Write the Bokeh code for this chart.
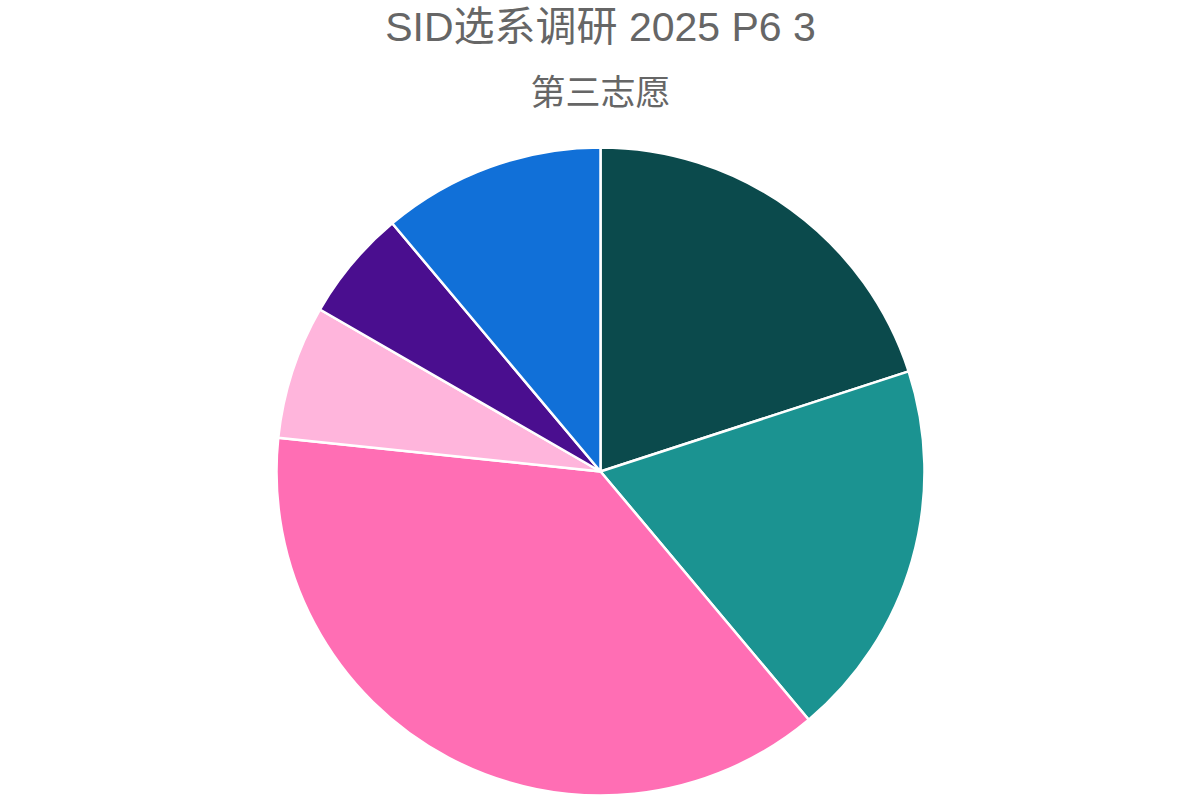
import numpy as np
from bokeh.plotting import figure
from bokeh.models import ColumnDataSource, Range1d
from bokeh.core.properties import value
from bokeh.embed import file_html
from bokeh.resources import INLINE

# Data (clockwise from 12 o'clock)
categories = ["选项1", "选项2", "选项3", "选项4", "选项5", "选项6"]
counts = [18, 17, 34, 6, 5, 10]
colors = ["#0b4a4c", "#1b9391", "#ff6eb4", "#ffb5dc", "#4a0e8f", "#1170d8"]

title_text = "SID选系调研 2025 P6 3"
subtitle_text = "第三志愿"

W, H = 1184, 796
vals = np.array(counts, dtype=float)
frac = vals / vals.sum()
cum_end = np.cumsum(frac)
cum_start = cum_end - frac
start = np.pi / 2 - cum_start * 2 * np.pi
end = np.pi / 2 - cum_end * 2 * np.pi

src = ColumnDataSource(dict(cat=categories, v=counts, color=colors,
                            start=start.tolist(), end=end.tolist()))

p = figure(width=W, height=H, output_backend="svg", toolbar_location=None,
           x_range=Range1d(0, W), y_range=Range1d(0, H), min_border=0)
p.axis.visible = False
p.grid.visible = False
p.outline_line_color = None
p.background_fill_color = "white"

cx, cy = 600, H - 471
p.wedge(x=cx, y=cy, radius=324, radius_units="screen",
        start_angle="start", end_angle="end", direction="clock",
        fill_color="color", line_color="white", line_width=2.5, source=src)

font = value("Liberation Sans, Noto Sans CJK SC")
p.text(x=[cx], y=[H - 26], text=[title_text], text_align="center",
       text_baseline="middle", text_font_size="41px", text_color="#666666",
       text_font=font)
p.text(x=[cx], y=[H - 92], text=[subtitle_text], text_align="center",
       text_baseline="middle", text_font_size="35px", text_color="#666666",
       text_font=font)

open("out.html", "w").write(file_html(p, INLINE))
